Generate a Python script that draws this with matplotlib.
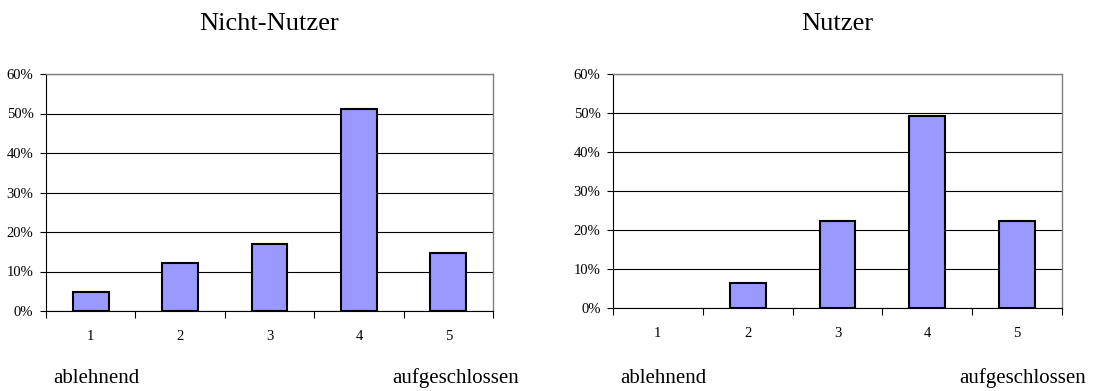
import matplotlib.pyplot as plt
from matplotlib.ticker import FixedLocator, NullFormatter

plt.rcParams['font.family'] = ['Liberation Serif', 'DejaVu Serif']

# Antwortstufen 1 (ablehnend) bis 5 (aufgeschlossen)
stufen = [1, 2, 3, 4, 5]
nicht_nutzer = [4.9, 12.2, 17.0, 51.1, 14.8]
nutzer = [0.0, 6.5, 22.2, 49.3, 22.2]
titel = ['Nicht-Nutzer', 'Nutzer']
y_ticks = [0, 10, 20, 30, 40, 50, 60]

W, H = 1097, 391
fig = plt.figure(figsize=(W / 100, H / 100), dpi=100)

# axes rectangles in pixels: left, top, right, bottom
boxes = [(46, 74, 493, 311), (613, 74, 1062, 308)]
labels_x = [(53, 392), (620, 959)]

for i, werte in enumerate([nicht_nutzer, nutzer]):
    l, t, r, b = boxes[i]
    ax = fig.add_axes([l / W, 1 - b / H, (r - l) / W, (b - t) / H])
    # no outline for empty categories
    lw = [1.5 if v > 0 else 0 for v in werte]
    ax.bar(stufen, werte, width=0.4, color='#9999ff', edgecolor='black',
           linewidth=lw, zorder=3)
    ax.set_xlim(0.5, 5.5)
    ax.set_ylim(0, 60)
    ax.set_yticks(y_ticks)
    ax.set_yticklabels([f'{v}%' for v in y_ticks], fontsize=10.5)
    ax.yaxis.grid(True, color='black', linewidth=0.8, zorder=1)
    ax.set_axisbelow(True)

    # ticks between categories, labels at centres
    ax.xaxis.set_major_locator(FixedLocator([0.5, 1.5, 2.5, 3.5, 4.5, 5.5]))
    ax.xaxis.set_major_formatter(NullFormatter())
    ax.xaxis.set_minor_locator(FixedLocator(stufen))
    ax.set_xticklabels([str(s) for s in stufen], minor=True, fontsize=10.5)
    ax.tick_params(axis='x', which='major', length=5, width=0.8, direction='out')
    ax.tick_params(axis='x', which='minor', length=0, pad=14)
    ax.tick_params(axis='y', length=4, width=0.8, pad=5)

    for s in ['top', 'right']:
        ax.spines[s].set_color('#808080')
        ax.spines[s].set_linewidth(1.0)
    for s in ['left', 'bottom']:
        ax.spines[s].set_color('black')
        ax.spines[s].set_linewidth(0.8)

    fig.text((l + r) / 2 / W, 1 - 30 / H, titel[i], fontsize=19,
             ha='center', va='baseline')
    fig.text(labels_x[i][0] / W, 1 - 383 / H, 'ablehnend', fontsize=15,
             ha='left', va='baseline')
    fig.text(labels_x[i][1] / W, 1 - 383 / H, 'aufgeschlossen', fontsize=15,
             ha='left', va='baseline')

fig.savefig('out.png', dpi=100)
